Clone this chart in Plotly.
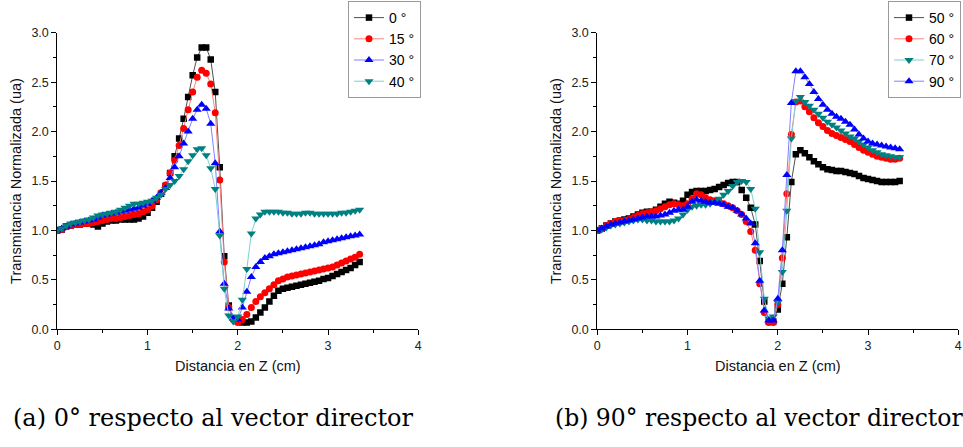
import plotly.graph_objects as go

# Distance along Z (cm)
z = [0.00, 0.05, 0.10, 0.15, 0.20, 0.25, 0.30, 0.35, 0.40, 0.45,
     0.50, 0.55, 0.60, 0.65, 0.70, 0.75, 0.80, 0.85, 0.90, 0.95,
     1.00, 1.05, 1.10, 1.15, 1.20, 1.25, 1.30, 1.35, 1.40, 1.45,
     1.50, 1.55, 1.60, 1.65, 1.70, 1.75, 1.80, 1.85, 1.90, 1.95,
     2.00, 2.05, 2.10, 2.15, 2.20, 2.25, 2.30, 2.35, 2.40, 2.45,
     2.50, 2.55, 2.60, 2.65, 2.70, 2.75, 2.80, 2.85, 2.90, 2.95,
     3.00, 3.05, 3.10, 3.15, 3.20, 3.25, 3.30, 3.35]

# (a) 0 deg respect to director
t0 = [1.00, 1.01, 1.04, 1.05, 1.06, 1.06, 1.07, 1.07, 1.06, 1.04,
      1.07, 1.09, 1.10, 1.10, 1.11, 1.11, 1.11, 1.11, 1.12, 1.14,
      1.18, 1.23, 1.29, 1.37, 1.45, 1.58, 1.75, 1.93, 2.13, 2.35,
      2.57, 2.75, 2.85, 2.85, 2.73, 2.40, 1.64, 0.74, 0.24, 0.11,
      0.08, 0.07, 0.07, 0.08, 0.12, 0.17, 0.22, 0.28, 0.34, 0.39,
      0.41, 0.42, 0.43, 0.44, 0.45, 0.46, 0.47, 0.48, 0.49, 0.51,
      0.52, 0.54, 0.56, 0.58, 0.60, 0.62, 0.65, 0.68]
t15 = [1.00, 1.01, 1.04, 1.05, 1.06, 1.06, 1.07, 1.07, 1.08, 1.09,
       1.10, 1.11, 1.12, 1.12, 1.13, 1.14, 1.15, 1.16, 1.17, 1.19,
       1.21, 1.25, 1.31, 1.38, 1.46, 1.58, 1.71, 1.86, 2.03, 2.22,
       2.40, 2.55, 2.62, 2.59, 2.48, 2.19, 1.51, 0.68, 0.22, 0.10,
       0.07, 0.10, 0.15, 0.22, 0.28, 0.33, 0.37, 0.41, 0.45, 0.49,
       0.51, 0.53, 0.54, 0.55, 0.56, 0.57, 0.58, 0.59, 0.60, 0.61,
       0.62, 0.63, 0.65, 0.67, 0.69, 0.71, 0.73, 0.76]
t30 = [1.00, 1.02, 1.04, 1.06, 1.07, 1.08, 1.09, 1.10, 1.11, 1.13,
       1.15, 1.16, 1.17, 1.18, 1.19, 1.20, 1.21, 1.22, 1.23, 1.25,
       1.27, 1.30, 1.33, 1.38, 1.43, 1.53, 1.64, 1.75, 1.88, 2.00,
       2.13, 2.22, 2.27, 2.23, 2.08, 1.68, 0.99, 0.46, 0.21, 0.11,
       0.10, 0.22, 0.38, 0.53, 0.63, 0.68, 0.72, 0.74, 0.76, 0.77,
       0.78, 0.79, 0.80, 0.81, 0.82, 0.83, 0.84, 0.85, 0.86, 0.88,
       0.89, 0.90, 0.91, 0.92, 0.93, 0.94, 0.95, 0.96]
t40 = [1.00, 1.02, 1.05, 1.07, 1.08, 1.09, 1.10, 1.11, 1.13, 1.15,
       1.16, 1.17, 1.18, 1.19, 1.21, 1.23, 1.25, 1.27, 1.27, 1.28,
       1.29, 1.30, 1.33, 1.36, 1.42, 1.46, 1.50, 1.55, 1.62, 1.70,
       1.76, 1.82, 1.83, 1.76, 1.63, 1.42, 0.95, 0.41, 0.14, 0.08,
       0.13, 0.30, 0.61, 0.97, 1.12, 1.16, 1.19, 1.19, 1.19, 1.19,
       1.18, 1.18, 1.17, 1.17, 1.17, 1.18, 1.18, 1.17, 1.17, 1.17,
       1.17, 1.17, 1.17, 1.18, 1.18, 1.19, 1.20, 1.21]

# (b) 90 deg respect to director
t50 = [1.00, 1.02, 1.05, 1.07, 1.09, 1.10, 1.11, 1.12, 1.14, 1.16,
       1.18, 1.19, 1.19, 1.21, 1.24, 1.27, 1.29, 1.28, 1.27, 1.30,
       1.36, 1.39, 1.40, 1.40, 1.40, 1.41, 1.42, 1.44, 1.46, 1.48,
       1.49, 1.49, 1.41, 1.33, 1.23, 1.06, 0.69, 0.28, 0.08, 0.08,
       0.20, 0.46, 0.93, 1.49, 1.77, 1.81, 1.78, 1.74, 1.70, 1.67,
       1.64, 1.62, 1.61, 1.60, 1.60, 1.59, 1.58, 1.57, 1.55, 1.53,
       1.52, 1.51, 1.50, 1.49, 1.49, 1.49, 1.49, 1.50]
t60 = [1.00, 1.02, 1.05, 1.07, 1.09, 1.10, 1.10, 1.11, 1.13, 1.15,
       1.17, 1.18, 1.19, 1.20, 1.22, 1.24, 1.26, 1.27, 1.26, 1.25,
       1.27, 1.32, 1.37, 1.36, 1.33, 1.31, 1.30, 1.29, 1.27, 1.25,
       1.23, 1.20, 1.16, 1.09, 0.99, 0.80, 0.46, 0.17, 0.07, 0.07,
       0.25, 0.72, 1.37, 1.97, 2.30, 2.31, 2.25, 2.20, 2.14, 2.09,
       2.05, 2.01, 1.98, 1.96, 1.94, 1.92, 1.90, 1.87, 1.84, 1.81,
       1.79, 1.77, 1.75, 1.74, 1.73, 1.72, 1.72, 1.73]
t70 = [1.00, 1.01, 1.03, 1.05, 1.06, 1.07, 1.08, 1.09, 1.10, 1.11,
       1.11, 1.10, 1.10, 1.09, 1.09, 1.09, 1.09, 1.10, 1.12, 1.16,
       1.21, 1.24, 1.25, 1.26, 1.26, 1.27, 1.29, 1.32, 1.36, 1.40,
       1.45, 1.49, 1.50, 1.49, 1.42, 1.22, 0.78, 0.31, 0.11, 0.13,
       0.27, 0.58, 1.20, 1.93, 2.31, 2.35, 2.30, 2.26, 2.22, 2.18,
       2.14, 2.10, 2.07, 2.04, 2.01, 1.98, 1.95, 1.93, 1.90, 1.87,
       1.84, 1.81, 1.79, 1.77, 1.76, 1.75, 1.74, 1.74]
t90 = [1.00, 1.02, 1.04, 1.06, 1.07, 1.08, 1.09, 1.10, 1.11, 1.12,
       1.13, 1.14, 1.14, 1.14, 1.15, 1.16, 1.18, 1.20, 1.21, 1.21,
       1.24, 1.29, 1.31, 1.30, 1.29, 1.28, 1.28, 1.27, 1.26, 1.24,
       1.23, 1.20, 1.16, 1.12, 1.07, 0.87, 0.49, 0.19, 0.09, 0.09,
       0.31, 0.80, 1.56, 2.29, 2.61, 2.61, 2.55, 2.48, 2.40, 2.33,
       2.27, 2.22, 2.18, 2.15, 2.13, 2.10, 2.07, 2.02, 1.97, 1.93,
       1.90, 1.88, 1.87, 1.86, 1.85, 1.84, 1.83, 1.82]

labels_a = ["0 °", "15 °", "30 °", "40 °"]
labels_b = ["50 °", "60 °", "70 °", "90 °"]
y_ticks = [0.0, 0.5, 1.0, 1.5, 2.0, 2.5, 3.0]
x_ticks = [0, 1, 2, 3, 4]

W, H = 963, 447
SANS = "Liberation Sans, Arial, sans-serif"
SERIF = "DejaVu Serif, serif"

styles = {
    "k": dict(mc="#000000", lc="#505050", sym="square", size=6.5),
    "r": dict(mc="#ff0000", lc="#ff8080", sym="circle", size=7),
    "b": dict(mc="#0000ff", lc="#8080ff", sym="triangle-up", size=8),
    "t": dict(mc="#008080", lc="#7fcfcf", sym="triangle-down", size=8),
}

fig = go.Figure()

def add(y, name, st, xa, ya, leg):
    s = styles[st]
    fig.add_trace(go.Scatter(
        x=z, y=y, name=name, mode="lines+markers",
        line=dict(color=s["lc"], width=1),
        marker=dict(symbol=s["sym"], size=s["size"], color=s["mc"],
                    line=dict(width=0)),
        xaxis=xa, yaxis=ya, legend=leg))

add(t0, labels_a[0], "k", "x", "y", "legend")
add(t15, labels_a[1], "r", "x", "y", "legend")
add(t30, labels_a[2], "b", "x", "y", "legend")
add(t40, labels_a[3], "t", "x", "y", "legend")

add(t50, labels_b[0], "k", "x2", "y2", "legend2")
add(t60, labels_b[1], "r", "x2", "y2", "legend2")
add(t70, labels_b[2], "t", "x2", "y2", "legend2")
add(t90, labels_b[3], "b", "x2", "y2", "legend2")

ydom = [(H - 329.3) / H, (H - 32.7) / H]
xdom1 = [57.3 / W, 418.3 / W]
xdom2 = [597.3 / W, 958.3 / W]

def xaxis(dom, anchor):
    return dict(domain=dom, anchor=anchor, range=[0, 4], automargin=False,
                tickvals=x_ticks, ticktext=[str(v) for v in x_ticks],
                ticklabeloverflow="allow",
                showline=True, linecolor="#000", linewidth=1,
                ticks="outside", ticklen=5, tickcolor="#000",
                minor=dict(dtick=0.5, ticks="outside", ticklen=3, tickcolor="#000"),
                showgrid=False, zeroline=False,
                tickfont=dict(family=SANS, size=12.5, color="#222"),
                title=dict(text="Distancia en Z (cm)",
                           font=dict(family=SANS, size=14.5, color="#111"),
                           standoff=8))

def yaxis(anchor):
    return dict(domain=ydom, anchor=anchor, range=[0, 3], automargin=False,
                tickvals=y_ticks, ticktext=[f"{v:.1f}" for v in y_ticks],
                ticklabeloverflow="allow",
                showline=True, linecolor="#000", linewidth=1,
                ticks="outside", ticklen=5, tickcolor="#000",
                minor=dict(dtick=0.25, ticks="outside", ticklen=3, tickcolor="#000"),
                showgrid=False, zeroline=False,
                tickfont=dict(family=SANS, size=12.5, color="#222"),
                title=dict(text="Transmitancia Normalizada (ua)",
                           font=dict(family=SANS, size=14.5, color="#111"),
                           standoff=6))

legend_style = dict(
    xanchor="right", yanchor="top",
    bgcolor="#ffffff", bordercolor="#999999", borderwidth=1,
    font=dict(family=SANS, size=14, color="#000"),
    tracegroupgap=0, itemwidth=30,
)

fig.update_layout(
    width=W, height=H, autosize=False,
    margin=dict(l=0, r=0, t=0, b=0, autoexpand=False),
    paper_bgcolor="#ffffff", plot_bgcolor="#ffffff",
    xaxis=xaxis(xdom1, "y"), yaxis=yaxis("x"),
    xaxis2=xaxis(xdom2, "y2"), yaxis2=yaxis("x2"),
    legend=dict(x=421 / W, y=1 - 1 / H, **legend_style),
    legend2=dict(x=961 / W, y=1 - 1 / H, **legend_style),
    showlegend=True,
    annotations=[
        dict(text="(a) 0° respecto al vector director", xref="paper", yref="paper",
             x=213 / W, y=(H - 418) / H, xanchor="center", yanchor="middle",
             showarrow=False, font=dict(family=SERIF, size=24, color="#000")),
        dict(text="(b) 90° respecto al vector director", xref="paper", yref="paper",
             x=759 / W, y=(H - 418) / H, xanchor="center", yanchor="middle",
             showarrow=False, font=dict(family=SERIF, size=23.5, color="#000")),
    ],
)

fig.write_html("out.html", config={"displayModeBar": False},
               post_script="document.body.style.margin='0';")
